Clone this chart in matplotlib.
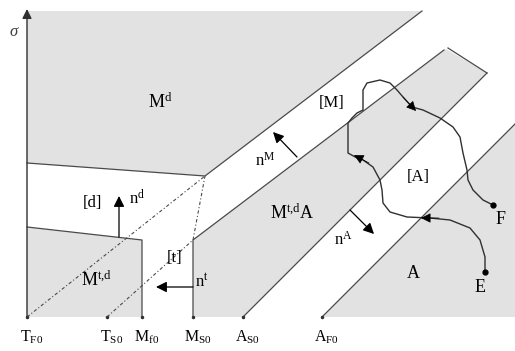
import numpy as np
import matplotlib
matplotlib.use('Agg')
import matplotlib.pyplot as plt
from matplotlib.patches import Polygon

plt.rcParams['font.family'] = ['Liberation Serif', 'DejaVu Serif']
plt.rcParams['mathtext.fontset'] = 'custom'
plt.rcParams['mathtext.rm'] = 'Liberation Serif'
plt.rcParams['mathtext.it'] = 'Liberation Serif:italic'

# температурные отметки на оси (T_F0 = 0)
tick_pos = [0, 80, 115, 166, 216, 295]
tick_lab = [r'$\mathrm{T_{F0}}$', r'$\mathrm{T_{S0}}$', r'$\mathrm{M_{f0}}$',
            r'$\mathrm{M_{S0}}$', r'$\mathrm{A_{S0}}$', r'$\mathrm{A_{F0}}$']

# области (серые)
reg_Md = [(0, 306), (395, 306), (178, 141), (0, 154)]
reg_Mtd = [(0, 0), (0, 90), (115, 77), (115, 0)]
reg_MtdA = [(166, 0), (166, 77), (419, 268), (460, 244), (216, 0)]
reg_A = [(295, 0), (488, 0), (488, 193)]

# границы
line_d = [(0, 154), (178, 141), (395, 306)]
line_M = [(166, 0), (166, 77), (417, 267)]
line_tab = [(421, 269), (460, 244)]
line_AS = [(216, 0), (460, 244)]
line_AF = [(295, 0), (488, 193)]
line_box = [(0, 90), (115, 77), (115, 0)]
dash1 = [(0, 0), (178, 141)]
dash2 = [(80, 0), (166, 77), (178, 141)]

# путь нагружения E -> F
path_x = [458, 458, 453, 443, 423, 403, 380, 363, 356, 355, 353, 346, 336, 330, 321, 321, 325,
          330, 336, 336, 340, 353, 363, 370, 376, 385, 396, 413, 426, 433, 436, 440, 441, 446,
          456, 466]
path_y = [45, 60, 77, 89, 97, 99, 100, 105, 114, 127, 137, 150, 157, 159, 164, 194, 199,
          204, 207, 227, 234, 237, 234, 227, 220, 210, 207, 199, 190, 180, 164, 147, 137, 127,
          117, 112]

fig = plt.figure(figsize=(5.15, 3.51), dpi=100)
ax = fig.add_axes([0, 0, 1, 1])
ax.set_xlim(-27, 488)
ax.set_ylim(-34, 317)
ax.axis('off')

gray = '#e2e2e2'
lc = '#4a4a4a'
for reg in [reg_Md, reg_Mtd, reg_MtdA, reg_A]:
    ax.add_patch(Polygon(reg, closed=True, facecolor=gray, edgecolor='none', zorder=1))

for ln in [line_d, line_M, line_tab, line_AS, line_AF, line_box]:
    xs, ys = zip(*ln)
    ax.plot(xs, ys, color=lc, lw=0.9, zorder=2)
for ln in [dash1, dash2]:
    xs, ys = zip(*ln)
    ax.plot(xs, ys, color=lc, lw=0.8, ls=(0, (3, 2, 1, 2)), zorder=2)

# оси
ap = dict(arrowstyle='-|>', mutation_scale=14, color='#303030', lw=1.0, shrinkA=0, shrinkB=0)
ax.annotate('', xy=(489, 0), xytext=(0, 0), arrowprops=ap, zorder=3)
ax.annotate('', xy=(0, 308), xytext=(0, 0), arrowprops=ap, zorder=3)
ax.plot(tick_pos, [0] * len(tick_pos), 'o', color='#303030', ms=1.5, zorder=3)
for x, t in zip(tick_pos, tick_lab):
    ax.text(x + 5, -20, t, ha='center', va='center', fontsize=11.5)
ax.text(-13, 285, r'$\sigma$', ha='center', va='center', fontsize=12, color='#404040')

# нормали
arr = dict(arrowstyle='-|>', mutation_scale=16, color='black', lw=0.9, shrinkA=0, shrinkB=0)
ax.annotate('', xy=(92, 121), xytext=(92, 80), arrowprops=arr)
ax.annotate('', xy=(129, 30), xytext=(166, 30), arrowprops=arr)
ax.annotate('', xy=(246, 185), xytext=(270, 160), arrowprops=arr)
ax.annotate('', xy=(347, 83), xytext=(323, 107), arrowprops=arr)

# путь
ax.plot(path_x, path_y, color='#303030', lw=1.0, zorder=4)
ax.plot([path_x[0], path_x[-1]], [path_y[0], path_y[-1]], 'o', color='black', ms=3.5, zorder=5)
pa = dict(arrowstyle='-|>', mutation_scale=15, color='black', lw=0.5, shrinkA=0, shrinkB=0)
ax.annotate('', xy=(394, 99), xytext=(412, 99), arrowprops=pa, zorder=5)
ax.annotate('', xy=(327, 162), xytext=(342, 154), arrowprops=pa, zorder=5)
ax.annotate('', xy=(389, 206), xytext=(376, 220), arrowprops=pa, zorder=5)

fs = 13
ax.text(133, 215, r'$\mathrm{M^d}$', ha='center', va='center', fontsize=fs)
ax.text(65, 114, '[d]', ha='center', va='center', fontsize=fs - 1)
ax.text(102, 118, r'$\mathrm{n^d}$', ha='left', va='center', fontsize=fs - 1)
ax.text(70, 37, r'$\mathrm{M^{t{,}d}}$', ha='center', va='center', fontsize=fs)
ax.text(148, 59, '[t]', ha='center', va='center', fontsize=fs - 1)
ax.text(168, 35, r'$\mathrm{n^t}$', ha='left', va='center', fontsize=fs - 1)
ax.text(238, 156, r'$\mathrm{n^M}$', ha='center', va='center', fontsize=fs - 1)
ax.text(305, 214, '[M]', ha='center', va='center', fontsize=fs - 1)
ax.text(265, 104, r'$\mathrm{M^{t{,}d}A}$', ha='center', va='center', fontsize=fs)
ax.text(316, 77, r'$\mathrm{n^A}$', ha='center', va='center', fontsize=fs - 1)
ax.text(391, 140, '[A]', ha='center', va='center', fontsize=fs - 1)
ax.text(386, 44, 'A', ha='center', va='center', fontsize=fs)
ax.text(453, 29, 'E', ha='center', va='center', fontsize=fs)
ax.text(474, 98, 'F', ha='center', va='center', fontsize=fs)

fig.savefig('out.png', dpi=100)
